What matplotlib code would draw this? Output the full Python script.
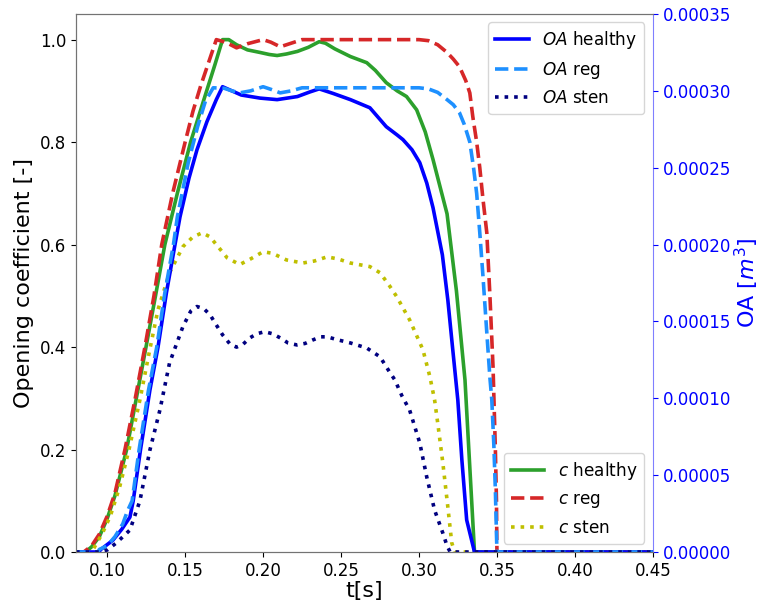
import numpy as np
import matplotlib
matplotlib.use("Agg")
import matplotlib.pyplot as plt

# ---------------- data (left axis: opening coefficient) ----------------
t_c_healthy = [0.080, 0.086, 0.090, 0.095, 0.100, 0.105, 0.1125, 0.1187, 0.1249, 0.131, 0.137,
               0.145, 0.1535, 0.1638, 0.169, 0.174, 0.178, 0.183, 0.190, 0.198, 0.204, 0.209,
               0.215, 0.222, 0.229, 0.236, 0.240, 0.246, 0.256, 0.2665, 0.272, 0.279, 0.286,
               0.292, 0.2985, 0.304, 0.309, 0.318, 0.324, 0.3295, 0.3356, 0.450]
c_healthy = [0.0, 0.0, 0.01, 0.03, 0.065, 0.11, 0.2, 0.3, 0.4, 0.5, 0.6,
             0.7, 0.8, 0.9, 0.95, 1.0, 1.0, 0.99, 0.98, 0.975, 0.971, 0.969,
             0.972, 0.977, 0.985, 0.996, 0.993, 0.982, 0.967, 0.955, 0.94, 0.916, 0.90,
             0.889, 0.863, 0.82, 0.766, 0.66, 0.51, 0.336, 0.0, 0.0]

t_c_reg = [0.080, 0.085, 0.090, 0.095, 0.100, 0.105, 0.1114, 0.118, 0.1242, 0.130, 0.135,
           0.142, 0.150, 0.155, 0.160, 0.165, 0.170, 0.176, 0.183, 0.190, 0.200, 0.205,
           0.211, 0.218, 0.225, 0.300, 0.306, 0.312, 0.318, 0.322, 0.326, 0.330, 0.3326,
           0.3345, 0.337, 0.339, 0.341, 0.3435, 0.3455, 0.3475, 0.349, 0.3497, 0.350, 0.450]
c_reg = [0.0, 0.0, 0.012, 0.035, 0.07, 0.115, 0.2, 0.3, 0.4, 0.5, 0.6,
         0.7, 0.8, 0.86, 0.91, 0.955, 1.0, 0.995, 0.984, 0.992, 1.0, 0.995,
         0.986, 0.993, 1.0, 1.0, 0.998, 0.99, 0.975, 0.962, 0.947, 0.92, 0.896,
         0.85, 0.80, 0.75, 0.69, 0.623, 0.5, 0.361, 0.2, 0.1, 0.0, 0.0]

t_c_sten = [0.080, 0.088, 0.091, 0.097, 0.102, 0.108, 0.114, 0.121, 0.127, 0.1326, 0.140,
            0.1486, 0.155, 0.161, 0.166, 0.170, 0.177, 0.185, 0.192, 0.200, 0.206, 0.215,
            0.2255, 0.233, 0.241, 0.248, 0.256, 0.2685, 0.275, 0.281, 0.2858, 0.294, 0.3025,
            0.307, 0.310, 0.312, 0.3153, 0.3185, 0.321, 0.323, 0.450]
c_sten = [0.0, 0.0, 0.005, 0.037, 0.07, 0.127, 0.2, 0.297, 0.39, 0.473, 0.545,
          0.596, 0.615, 0.623, 0.615, 0.60, 0.574, 0.561, 0.572, 0.586, 0.583, 0.570,
          0.564, 0.568, 0.576, 0.572, 0.564, 0.557, 0.545, 0.52, 0.498, 0.453, 0.395,
          0.342, 0.297, 0.252, 0.174, 0.088, 0.018, 0.0, 0.0]

# ---------------- data (right axis: OA, units of 1e-4) ----------------
t_oa_healthy = [0.080, 0.095, 0.0955, 0.1037, 0.1095, 0.1146, 0.1167, 0.1214, 0.1274, 0.1326,
                0.138, 0.1435, 0.1467, 0.1525, 0.1576, 0.164, 0.170, 0.174, 0.180, 0.186,
                0.198, 0.209, 0.222, 0.230, 0.236, 0.245, 0.256, 0.2685, 0.279, 0.286,
                0.2897, 0.2955, 0.3005, 0.305, 0.309, 0.315, 0.3185, 0.3215, 0.3249, 0.3275,
                0.3306, 0.3356, 0.450]
oa_healthy_e4 = [0.0, 0.0, 0.013, 0.077, 0.15, 0.227, 0.333, 0.667, 1.053, 1.333,
                 1.687, 2.0, 2.18, 2.433, 2.617, 2.8, 2.943, 3.027, 3.0, 2.973,
                 2.953, 2.943, 2.963, 2.993, 3.013, 2.983, 2.943, 2.89, 2.767, 2.713,
                 2.683, 2.617, 2.533, 2.4, 2.24, 1.933, 1.64, 1.333, 0.99, 0.6,
                 0.208, 0.0, 0.0]

t_oa_reg = [0.080, 0.094, 0.095, 0.100, 0.105, 0.110, 0.113, 0.116, 0.1205, 0.1265, 0.1318,
            0.137, 0.1425, 0.145, 0.152, 0.158, 0.163, 0.168, 0.175, 0.180, 0.185, 0.192,
            0.200, 0.205, 0.211, 0.218, 0.225, 0.300, 0.306, 0.312, 0.318, 0.322, 0.326,
            0.329, 0.3326, 0.335, 0.337, 0.339, 0.341, 0.3435, 0.3455, 0.3467, 0.348, 0.349,
            0.350, 0.450]
oa_reg_e4 = [0.0, 0.0, 0.017, 0.04, 0.1, 0.183, 0.267, 0.333, 0.667, 1.053, 1.333,
             1.687, 2.0, 2.18, 2.533, 2.767, 2.933, 3.02, 3.017, 3.0, 2.987, 3.0,
             3.027, 3.01, 2.987, 3.0, 3.02, 3.02, 3.013, 2.99, 2.943, 2.91, 2.857,
             2.783, 2.667, 2.5, 2.333, 2.077, 1.8, 1.427, 1.133, 0.99, 0.7, 0.4,
             0.0, 0.0]

t_oa_sten = [0.080, 0.095, 0.100, 0.106, 0.1146, 0.121, 0.1274, 0.1338, 0.140, 0.1486, 0.1536,
             0.1576, 0.162, 0.166, 0.170, 0.174, 0.179, 0.183, 0.187, 0.1915, 0.196, 0.201,
             0.206, 0.211, 0.216, 0.2217, 0.227, 0.232, 0.237, 0.241, 0.248, 0.256, 0.2665,
             0.275, 0.281, 0.2845, 0.289, 0.294, 0.3005, 0.305, 0.310, 0.3153, 0.318, 0.320,
             0.450]
oa_sten_e4 = [0.0, 0.0, 0.013, 0.06, 0.143, 0.333, 0.663, 0.923, 1.23, 1.467, 1.567,
              1.597, 1.583, 1.543, 1.477, 1.413, 1.35, 1.333, 1.35, 1.393, 1.42, 1.433,
              1.42, 1.393, 1.36, 1.347, 1.357, 1.38, 1.4, 1.4, 1.38, 1.36, 1.327,
              1.27, 1.173, 1.12, 1.017, 0.923, 0.71, 0.487, 0.273, 0.123, 0.04, 0.0,
              0.0]

x_ticks = [0.10, 0.15, 0.20, 0.25, 0.30, 0.35, 0.40, 0.45]
y_ticks = [0.0, 0.2, 0.4, 0.6, 0.8, 1.0]
y2_ticks = [0.0, 0.00005, 0.00010, 0.00015, 0.00020, 0.00025, 0.00030, 0.00035]

# ---------------- plot ----------------
fig = plt.figure(figsize=(7.6, 6.04), dpi=100)
ax1 = fig.add_axes([0.1, 0.0861, 0.759, 0.8907])
ax2 = ax1.twinx()

lw = 2.6
l1, = ax1.plot(t_c_healthy, c_healthy, color='tab:green', lw=lw, ls='-', label='$c$ healthy')
l2, = ax1.plot(t_c_reg, c_reg, color='tab:red', lw=lw, ls='--', label='$c$ reg')
l3, = ax1.plot(t_c_sten, c_sten, color='y', lw=lw, ls=':', label='$c$ sten')

e4 = 1e-4
m1, = ax2.plot(t_oa_healthy, np.array(oa_healthy_e4) * e4, color='blue', lw=lw, ls='-', label='$OA$ healthy')
m2, = ax2.plot(t_oa_reg, np.array(oa_reg_e4) * e4, color='dodgerblue', lw=lw, ls='--', label='$OA$ reg')
m3, = ax2.plot(t_oa_sten, np.array(oa_sten_e4) * e4, color='navy', lw=lw, ls=':', label='$OA$ sten')

ax1.set_xlim(0.08, 0.45)
ax1.set_ylim(0, 1.05)
ax2.set_ylim(0, 0.00035)
ax1.set_xticks(x_ticks)
ax1.set_xticklabels([f"{v:.2f}" for v in x_ticks])
ax1.set_yticks(y_ticks)
ax1.set_yticklabels([f"{v:.1f}" for v in y_ticks])
ax2.set_yticks(y2_ticks)
ax2.set_yticklabels([f"{v:.5f}" for v in y2_ticks])

fs_tick = 12
fs_lab = 16
ax1.tick_params(axis='both', labelsize=fs_tick)
ax2.tick_params(axis='y', labelsize=fs_tick, colors='blue')
ax1.set_xlabel('t[s]', fontsize=fs_lab, labelpad=1)
ax1.set_ylabel('Opening coefficient [-]', fontsize=fs_lab)
ax2.set_ylabel('OA [$m^3$]', fontsize=fs_lab, color='blue', labelpad=1)

for s in ['left', 'top', 'bottom']:
    ax1.spines[s].set_color('0.45')
    ax2.spines[s].set_color('0.45')
ax2.spines['right'].set_color('blue')
ax2.spines['right'].set_alpha(0.5)
ax1.spines['right'].set_visible(False)

ax2.legend(handles=[m1, m2, m3], loc='upper right', fontsize=12.2)
ax1.legend(handles=[l1, l2, l3], loc='lower right', fontsize=12.2)

fig.savefig('out.png', dpi=100)
